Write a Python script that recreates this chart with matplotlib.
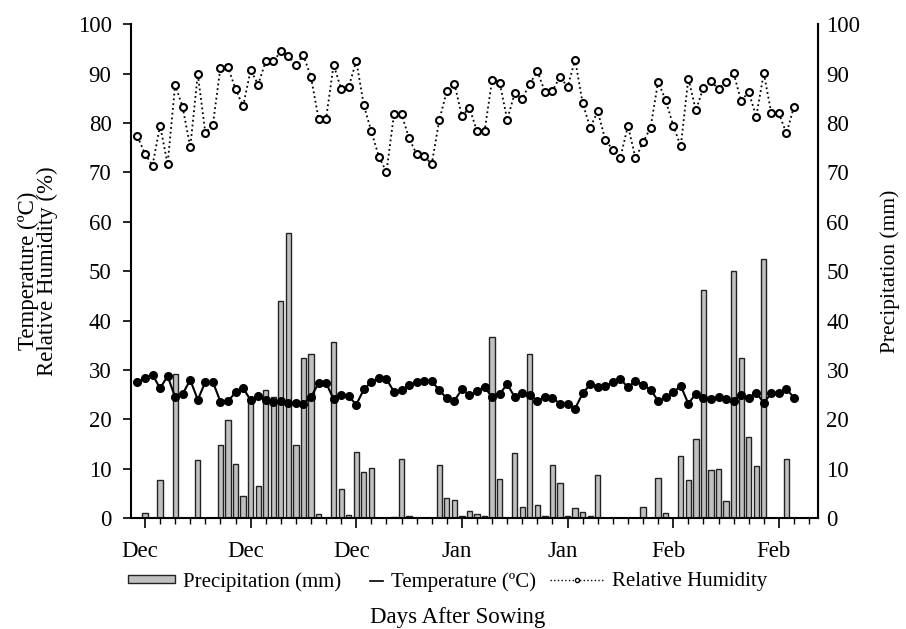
import matplotlib
matplotlib.use("Agg")
import matplotlib.pyplot as plt
import matplotlib.transforms as mtransforms
import numpy as np

plt.rcParams['font.family'] = ['Liberation Serif', 'DejaVu Serif']

# 日数（0..87）
days = np.arange(88)

humidity = [77.3, 73.8, 71.4, 79.5, 71.7, 87.7, 83.2, 75.1, 89.9, 78.0,
            79.7, 91.2, 91.3, 86.9, 83.4, 90.7, 87.8, 92.5, 92.5, 94.5,
            93.5, 91.8, 93.7, 89.3, 80.9, 80.9, 91.8, 86.9, 87.3, 92.6,
            83.6, 78.3, 73.2, 70.1, 81.8, 81.8, 76.9, 73.7, 73.3, 71.7,
            80.6, 86.5, 88.0, 81.4, 83.1, 78.3, 78.3, 88.8, 88.2, 80.7,
            86.1, 84.9, 88.0, 90.5, 86.3, 86.5, 89.4, 87.3, 92.8, 84.0,
            79.1, 82.4, 76.6, 74.6, 73.0, 79.5, 72.9, 76.1, 79.1, 88.4,
            84.6, 79.5, 75.3, 89.0, 82.6, 87.2, 88.6, 86.8, 88.4, 90.1,
            84.5, 86.3, 81.3, 90.1, 82.0, 82.0, 77.9, 83.3]

temperature = [27.6, 28.4, 29.1, 26.3, 28.8, 24.5, 25.2, 28.0, 24.0, 27.6,
               27.6, 23.6, 23.7, 25.5, 26.4, 23.9, 24.7, 23.9, 23.6, 23.8,
               23.3, 23.3, 23.2, 24.5, 27.4, 27.4, 24.1, 24.9, 24.7, 23.0,
               26.1, 27.6, 28.4, 28.2, 25.6, 25.9, 27.0, 27.6, 27.8, 27.8,
               25.9, 24.3, 23.8, 26.1, 24.9, 25.8, 26.6, 24.5, 25.1, 27.2,
               24.5, 25.3, 24.9, 23.8, 24.5, 24.3, 23.2, 23.2, 22.2, 25.3,
               27.1, 26.6, 26.7, 27.6, 28.2, 26.5, 27.8, 27.0, 26.0, 23.8,
               24.5, 25.5, 26.8, 23.2, 25.2, 24.4, 24.2, 24.5, 24.2, 23.7,
               24.9, 24.3, 25.4, 23.4, 25.3, 25.3, 26.2, 24.4]

precipitation = [0, 1.15, 0, 7.8, 0, 29.2, 0, 0, 11.8, 0,
                 0.15, 14.9, 19.8, 10.9, 4.5, 24.3, 6.55, 25.9, 24.6, 44.0,
                 57.7, 14.8, 32.4, 33.2, 0.8, 0, 35.6, 6.0, 0.6, 13.4,
                 9.4, 10.2, 0, 0, 0.2, 12.0, 0.4, 0, 0, 0,
                 10.7, 4.2, 3.8, 0.4, 1.55, 0.8, 0.4, 36.7, 8.0, 0,
                 13.2, 2.2, 33.2, 2.6, 0.4, 10.7, 7.2, 0.4, 2.1, 1.2,
                 0.4, 8.8, 0, 0, 0, 0, 0, 2.2, 0, 8.2,
                 1.0, 0, 12.6, 7.8, 16.1, 46.3, 9.7, 9.9, 3.4, 50.1,
                 32.4, 16.4, 10.6, 52.5, 0, 0, 12.0, 0]

month_pos = [1, 15, 29, 43, 57, 71, 85]
month_labels = ['Dec', 'Dec', 'Dec', 'Jan', 'Jan', 'Feb', 'Feb']

fig = plt.figure(figsize=(9.06, 6.29), dpi=100)
ax = fig.add_axes([0.1446, 0.176, 0.7584, 0.7854])
ax2 = ax.twinx()

# 降水量（右轴）
ax2.bar(days, precipitation, width=0.7, color='#c0c0c0', edgecolor='#222222',
        linewidth=1.0)

# 温度和相对湿度（左轴）
ax.plot(days, temperature, '-', color='black', lw=1.5, marker='o', ms=5.5,
        mfc='black', mec='black')
ax.plot(days, humidity, ':', color='black', lw=1.3, marker='o', ms=5,
        mfc='white', mec='black', mew=1.5)

ax.set_zorder(ax2.get_zorder() + 1)
ax.patch.set_visible(False)

for a in (ax, ax2):
    a.set_xlim(-0.85, 90.2)
    a.set_ylim(0, 100)
    a.spines['top'].set_visible(False)

ax.set_yticks(np.arange(0, 101, 10))
ax2.set_yticks(np.arange(0, 101, 10))
ax.tick_params(axis='y', direction='out', length=6, width=1.2, pad=8, labelsize=16.5)
ax2.tick_params(axis='y', length=0, pad=6, labelsize=16.5)
for s in ('left', 'bottom'):
    ax.spines[s].set_linewidth(1.5)
ax2.spines['right'].set_linewidth(1.5)
ax2.spines['left'].set_visible(False)
ax2.spines['bottom'].set_visible(False)

ax.set_xticks(month_pos)
ax.set_xticklabels(month_labels)
ax.set_xticks(np.arange(1, 90, 2), minor=True)
ax.tick_params(axis='x', which='major', direction='out', length=7, width=1.2,
               pad=9, labelsize=16.5)
ax.tick_params(axis='x', which='minor', direction='out', length=4, width=1.0)
offset = mtransforms.ScaledTranslation(-5 / 100, 0, fig.dpi_scale_trans)
for lab in ax.get_xticklabels():
    lab.set_transform(lab.get_transform() + offset)

ax.set_ylabel('Temperature (ºC)\nRelative Humidity (%)', fontsize=16.5,
              linespacing=0.9, labelpad=14)
ax2.set_ylabel('Precipitation (mm)', fontsize=15.5, labelpad=14)

# 图例（三个分开画，句柄长度不同）
h_bar = ax2.containers[0]
h_t = plt.Line2D([], [], color='black', lw=1.2)
h_h = plt.Line2D([], [], color='black', ls=':', lw=1.0, marker='o', ms=3,
                 mfc='white', mec='black')
leg_items = [(h_bar, 'Precipitation (mm)', 0.1413, 2.25),
             (h_t, 'Temperature (ºC)', 0.408, 0.62),
             (h_h, 'Relative Humidity', 0.607, 2.6)]
for h, txt, x0, hl in leg_items:
    fig.legend([h], [txt], loc='center left', bbox_to_anchor=(x0, 0.075),
               frameon=False, fontsize=15, handlelength=hl, handleheight=0.25,
               handletextpad=0.4, borderpad=0, borderaxespad=0)

fig.text(0.505, 0.018, 'Days After Sowing', ha='center', va='center', fontsize=16.5)

fig.savefig('out.png', dpi=100)
